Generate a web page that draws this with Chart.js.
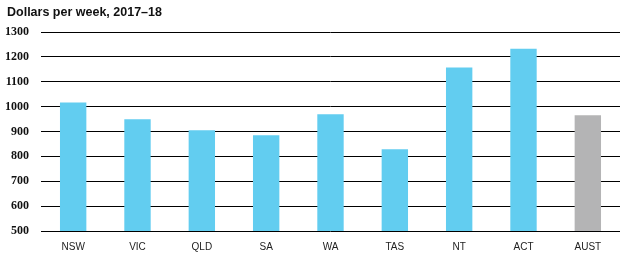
<!DOCTYPE html>
<html>
<head>
<meta charset="utf-8">
<script src="https://cdn.jsdelivr.net/npm/chart.js@4/dist/chart.umd.min.js"></script>
<style>
html,body{margin:0;padding:0;background:#fff;}
#wrap{width:621px;height:265px;position:relative;}
</style>
</head>
<body>
<div id="wrap"><canvas id="c" width="621" height="265"></canvas></div>
<script>
const title = "Dollars per week, 2017\u201318";
const categories = ["NSW","VIC","QLD","SA","WA","TAS","NT","ACT","AUST"];
const values = [1017, 949, 905, 885, 969, 829, 1157, 1233, 965];
const barColors = ["#62CDF0","#62CDF0","#62CDF0","#62CDF0","#62CDF0","#62CDF0","#62CDF0","#62CDF0","#B4B4B5"];
const yTicks = [500,600,700,800,900,1000,1100,1200,1300];

const titlePlugin = {
  id: 'titleText',
  afterDraw(chart) {
    const ctx = chart.ctx;
    ctx.save();
    ctx.font = "bold 12.5px 'Liberation Sans', Arial, sans-serif";
    ctx.fillStyle = "#111";
    ctx.textBaseline = "middle";
    ctx.textAlign = "left";
    ctx.fillText(title, 7, 13);
    ctx.restore();
  }
};

new Chart(document.getElementById('c'), {
  type: 'bar',
  data: {
    labels: categories,
    datasets: [{
      data: values,
      backgroundColor: barColors,
      borderWidth: 0,
      barPercentage: 0.41,
      categoryPercentage: 1.0
    }]
  },
  options: {
    responsive: false,
    animation: false,
    devicePixelRatio: 1,
    layout: { padding: { top: 32, right: 1, bottom: 0, left: 0 } },
    plugins: { legend: { display: false }, tooltip: { enabled: false }, title: { display: false } },
    scales: {
      x: {
        grid: { display: false, drawTicks: false },
        border: { display: false },
        ticks: {
          color: "#222",
          font: { family: "'Liberation Sans', Arial, sans-serif", size: 10 },
          padding: 10,
          maxRotation: 0
        },
        afterFit(scale) { scale.height = 34; }
      },
      y: {
        min: 500,
        max: 1300,
        afterBuildTicks(scale) { scale.ticks = yTicks.map(v => ({ value: v })); },
        grid: { color: "#000", lineWidth: 1, drawTicks: false },
        border: { display: false },
        ticks: {
          color: "#111",
          font: { family: "'Liberation Serif', 'Times New Roman', serif", size: 12, weight: 'bold' },
          padding: 12,
          callback: (v) => String(v)
        },
        afterFit(scale) { scale.width = 41; }
      }
    }
  },
  plugins: [titlePlugin]
});
</script>
</body>
</html>
